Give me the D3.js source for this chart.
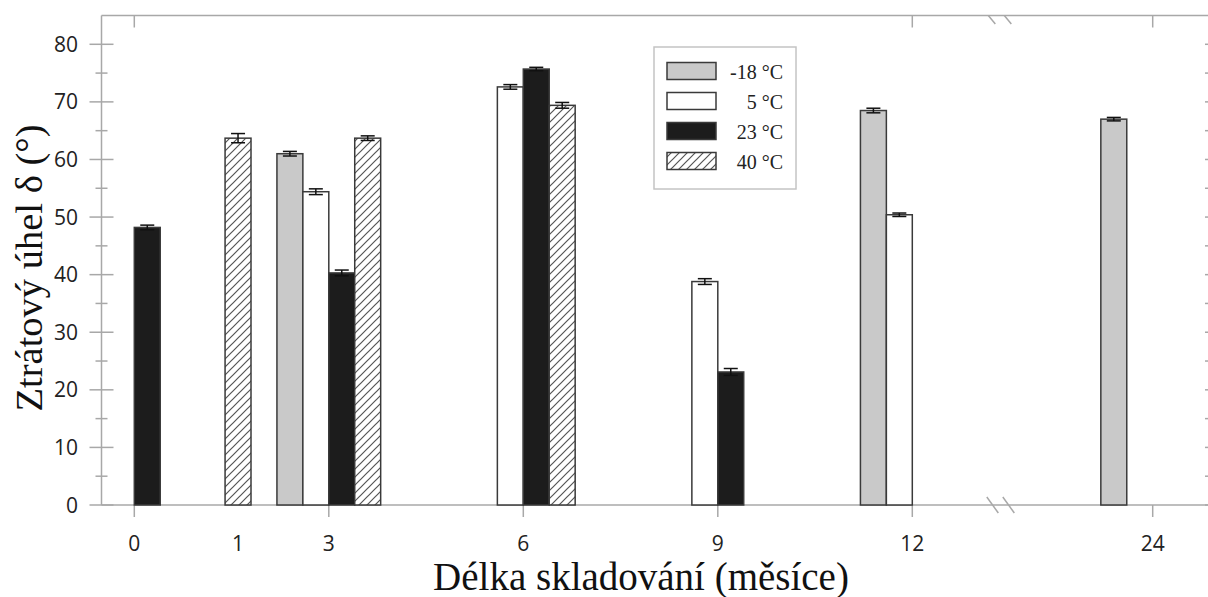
<!DOCTYPE html>
<html>
<head>
<meta charset="utf-8">
<script src="https://cdn.jsdelivr.net/npm/d3@7"></script>
<style>
  html, body { margin: 0; padding: 0; background: #fff; }
  svg { display: block; }
</style>
</head>
<body>
<svg id="chart" width="1208" height="597"></svg>
<script>
// Storage time (months) and their axis labels
const months = [0, 1, 3, 6, 9, 12, 24];
const monthLabels = ["0", "1", "3", "6", "9", "12", "24"];
const tickMonths = [0, 3, 6, 9, 12, 24];
const topTickMonths = [0, 12, 24];

// Storage temperatures (legend order)
const seriesNames = ["-18 °C", "5 °C", "23 °C", "40 °C"];

// Loss angle δ (°) per temperature, one entry per month (null = not measured)
const valsMinus18 = [null, null, 61.0, null, null, 68.5, 67.0];
const vals5       = [null, null, 54.4, 72.6, 38.8, 50.4, null];
const vals23      = [48.2, null, 40.3, 75.7, 23.1, null, null];
const vals40      = [null, 63.7, 63.7, 69.4, null, null, null];

// Standard deviations
const errMinus18 = [null, null, 0.4, null, null, 0.4, 0.3];
const err5       = [null, null, 0.5, 0.4, 0.5, 0.3, null];
const err23      = [0.4, null, 0.5, 0.3, 0.6, null, null];
const err40      = [null, 0.8, 0.4, 0.5, null, null, null];

const yTicks = [0, 10, 20, 30, 40, 50, 60, 70, 80];
const yMinorTicks = [5, 15, 25, 35, 45, 55, 65, 75];

const seriesVals = [valsMinus18, vals5, vals23, vals40];
const seriesErr = [errMinus18, err5, err23, err40];

const svg = d3.select("#chart");
const axisColor = "#a8a8a8";
const barStroke = "#3a3a3a";
const fills = ["#c9c9c9", "#ffffff", "#1c1c1c", "url(#hatch)"];

// Hatch pattern for 40 °C
const defs = svg.append("defs");
const pat = defs.append("pattern")
  .attr("id", "hatch")
  .attr("patternUnits", "userSpaceOnUse")
  .attr("width", 8).attr("height", 8);
pat.append("rect").attr("width", 8).attr("height", 8).attr("fill", "#fff");
pat.append("path")
  .attr("d", "M-2,2 L2,-2 M0,8 L8,0 M6,10 L10,6")
  .attr("stroke", "#555").attr("stroke-width", 1.2);

// Scales: x has a break between 12 and 24 months
const x = d3.scaleLinear().domain([0, 12, 24]).range([134.3, 912.3, 1152.7]);
const y = d3.scaleLinear().domain([0, 85]).range([505, 15.5]);
const barW = x(0.4) - x(0);

const plotLeft = 101.5, plotRight = 1210;

// Frame lines
const g = svg.append("g").attr("stroke", axisColor).attr("stroke-width", 1.5).attr("fill", "none");
g.append("line").attr("x1", plotLeft).attr("x2", plotLeft).attr("y1", y(85)).attr("y2", y(0));
g.append("line").attr("x1", plotLeft).attr("x2", plotRight).attr("y1", y(0)).attr("y2", y(0));
g.append("line").attr("x1", plotLeft).attr("x2", plotRight).attr("y1", y(85)).attr("y2", y(85));
g.append("line").attr("x1", plotRight).attr("x2", plotRight).attr("y1", y(85)).attr("y2", y(0));

// Left axis ticks
g.selectAll(".ymaj").data(yTicks).join("line")
  .attr("x1", plotLeft - 12).attr("x2", plotLeft + 12)
  .attr("y1", d => y(d)).attr("y2", d => y(d));
g.selectAll(".ymin").data(yMinorTicks).join("line")
  .attr("x1", plotLeft - 6).attr("x2", plotLeft + 6)
  .attr("y1", d => y(d)).attr("y2", d => y(d));
// Right axis ticks
g.selectAll(".yr").data(yTicks.concat(yMinorTicks)).join("line")
  .attr("x1", plotRight - 5).attr("x2", plotRight)
  .attr("y1", d => y(d)).attr("y2", d => y(d));

// Bottom and top ticks
g.selectAll(".xb").data(tickMonths).join("line")
  .attr("x1", d => x(d)).attr("x2", d => x(d))
  .attr("y1", y(0)).attr("y2", y(0) + 12);
g.selectAll(".xt").data(topTickMonths).join("line")
  .attr("x1", d => x(d)).attr("x2", d => x(d))
  .attr("y1", y(85)).attr("y2", y(85) + 12);

// Axis break marks
const bx = x(12) + 0.31 * (x(24) - x(12));
[0, 16].forEach(dx => {
  g.append("line").attr("x1", bx + dx).attr("y1", y(0) - 8).attr("x2", bx + dx + 11.5).attr("y2", y(0) + 8);
  g.append("line").attr("x1", bx + dx + 1.5).attr("y1", y(85)).attr("x2", bx + dx + 8.5).attr("y2", y(85) + 8.5);
});

// Tick labels
const tickFont = "'Open Sans', 'Noto Sans', sans-serif";
svg.append("g").selectAll("text").data(yTicks).join("text")
  .attr("x", 78).attr("y", d => y(d)).attr("dy", "0.36em")
  .attr("text-anchor", "end")
  .attr("font-family", tickFont).attr("font-size", 21).attr("fill", "#222")
  .text(d => d);

// Month labels: at their tick, or centred under the bars when no tick is drawn
const labelX = (m, i) => {
  if (tickMonths.includes(m)) return x(m);
  const idx = seriesVals.map((v, s) => v[i] != null ? s : null).filter(s => s != null);
  const left = x(m) + (d3.min(idx) - 2) * barW;
  const right = x(m) + (d3.max(idx) - 1) * barW;
  return (left + right) / 2;
};
svg.append("g").selectAll("text").data(months).join("text")
  .attr("x", (d, i) => labelX(d, i)).attr("y", 551)
  .attr("text-anchor", "middle")
  .attr("font-family", tickFont).attr("font-size", 21).attr("fill", "#222")
  .text((d, i) => monthLabels[i]);

// Bars
const barData = [];
seriesVals.forEach((vals, s) => {
  vals.forEach((v, i) => {
    if (v != null) barData.push({ s, m: months[i], v, e: seriesErr[s][i] });
  });
});
svg.append("g").selectAll("rect").data(barData).join("rect")
  .attr("x", d => x(d.m) + (d.s - 2) * barW)
  .attr("y", d => y(d.v))
  .attr("width", barW)
  .attr("height", d => y(0) - y(d.v))
  .attr("fill", d => fills[d.s])
  .attr("stroke", barStroke).attr("stroke-width", 1.5);

// Error bars
const eg = svg.append("g").attr("stroke", "#111").attr("stroke-width", 1.5);
barData.forEach(d => {
  const cx = x(d.m) + (d.s - 1.5) * barW;
  eg.append("line").attr("x1", cx).attr("x2", cx).attr("y1", y(d.v - d.e)).attr("y2", y(d.v + d.e));
  eg.append("line").attr("x1", cx - 7).attr("x2", cx + 7).attr("y1", y(d.v + d.e)).attr("y2", y(d.v + d.e));
  eg.append("line").attr("x1", cx - 7).attr("x2", cx + 7).attr("y1", y(d.v - d.e)).attr("y2", y(d.v - d.e));
});

// Legend
const lg = svg.append("g");
lg.append("rect").attr("x", 654).attr("y", 47).attr("width", 142).attr("height", 142)
  .attr("fill", "#fff").attr("stroke", "#c4c4c4").attr("stroke-width", 1.5);
seriesNames.forEach((name, s) => {
  const cy = 71 + s * 30;
  lg.append("rect").attr("x", 667).attr("y", cy - 8.5).attr("width", 49).attr("height", 17)
    .attr("fill", fills[s]).attr("stroke", barStroke).attr("stroke-width", 1.5);
  lg.append("text").attr("x", 783).attr("y", cy + 7.5)
    .attr("text-anchor", "end")
    .attr("font-family", "'Liberation Serif', 'Times New Roman', serif")
    .attr("font-size", 20).attr("fill", "#222")
    .text(name);
});

// Axis titles
const titleFont = "'Liberation Serif', 'Times New Roman', serif";
svg.append("text")
  .attr("transform", "translate(42,268) rotate(-90)")
  .attr("text-anchor", "middle")
  .attr("font-family", titleFont).attr("font-size", 38.5).attr("fill", "#111")
  .text("Ztrátový úhel δ (°)");
svg.append("text")
  .attr("x", 641).attr("y", 590)
  .attr("text-anchor", "middle")
  .attr("font-family", titleFont).attr("font-size", 39).attr("fill", "#111")
  .text("Délka skladování (měsíce)");
</script>
</body>
</html>
